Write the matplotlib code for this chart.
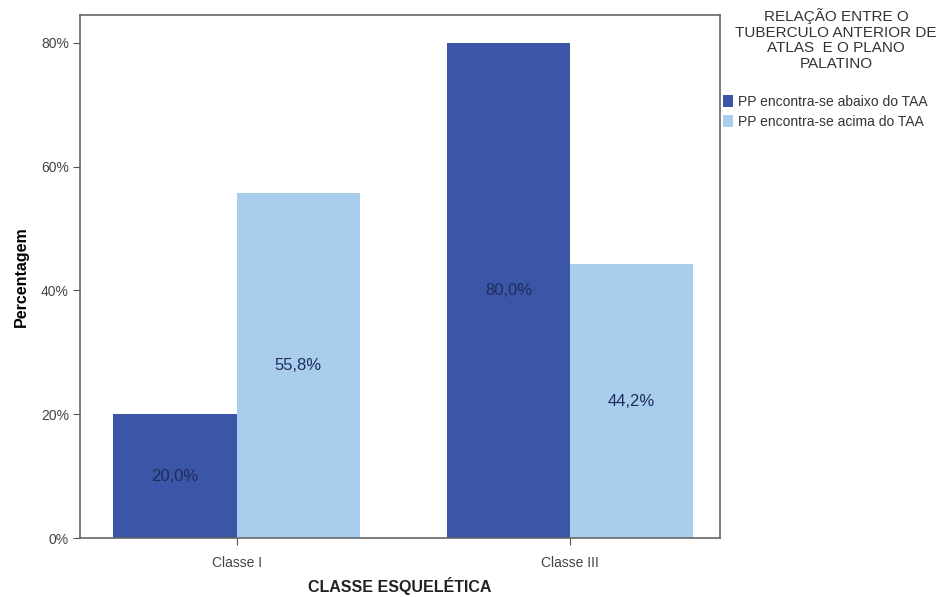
import numpy as np
import matplotlib.pyplot as plt

plt.rcParams['font.family'] = ['Liberation Sans', 'DejaVu Sans']

categorias = ['Classe I', 'Classe III']
abaixo = [20.0, 80.0]   # PP encontra-se abaixo do TAA
acima = [55.8, 44.2]    # PP encontra-se acima do TAA
series = ['PP encontra-se abaixo do TAA', 'PP encontra-se acima do TAA']
cores = ['#3b55a7', '#a9cdec']
titulo_legenda = 'RELAÇÃO ENTRE O\nTUBERCULO ANTERIOR DE\nATLAS  E O PLANO\nPALATINO'

fig = plt.figure(figsize=(9.46, 5.97), dpi=100)
ax = fig.add_axes([80 / 946, 1 - 538 / 597, 640 / 946, 523 / 597])

x = np.arange(len(categorias))
w = 0.37
for i, (vals, cor, nome) in enumerate(zip([abaixo, acima], cores, series)):
    pos = x + (i - 0.5) * w
    ax.bar(pos, vals, width=w, color=cor, label=nome, edgecolor='none')
    for p, v in zip(pos, vals):
        ax.text(p, v / 2, f"{v:.1f}%".replace('.', ','), ha='center', va='center',
                fontsize=12, color='#1f2d5a')

ax.set_xlim(-0.47, 1.45)
ax.set_ylim(0, 84.5)
ax.set_yticks([0, 20, 40, 60, 80])
ax.set_yticklabels([f"{t}%" for t in [0, 20, 40, 60, 80]])
ax.set_xticks(x)
ax.set_xticklabels(categorias)
ax.tick_params(labelsize=10, labelcolor='#444444', color='#555555', length=5)
ax.tick_params(axis='x', pad=8)
ax.tick_params(axis='y', pad=3)
for s in ax.spines.values():
    s.set_color('#666666')
    s.set_linewidth(1.2)

ax.set_ylabel('Percentagem', fontsize=11.5, fontweight='bold', labelpad=9)
# rótulo do eixo x posto à mão para não sair da figura
fig.text(400 / 946, 1 - 586 / 597, 'CLASSE ESQUELÉTICA', ha='center', va='center',
         fontsize=11.5, fontweight='bold', color='#222222')

# título da legenda à parte, centrado por cima das entradas
fig.text(836 / 946, 1 - 8 / 597, titulo_legenda, ha='center', va='top',
         fontsize=11, color='#333333', linespacing=1.15, multialignment='center')

leg = fig.legend(loc='upper left', bbox_to_anchor=(723 / 946, 1 - 95 / 597),
                 fontsize=10, frameon=False, handlelength=0.75,
                 handleheight=0.95, handletextpad=0.3, labelspacing=0.45,
                 borderaxespad=0, borderpad=0)
for t in leg.get_texts():
    t.set_color('#333333')

fig.savefig('out.png', dpi=100)
